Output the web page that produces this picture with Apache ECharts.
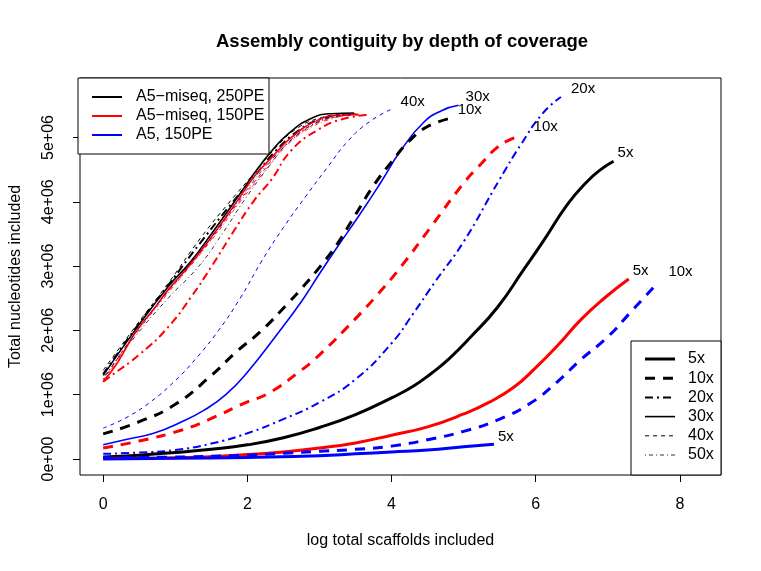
<!DOCTYPE html>
<html>
<head>
<meta charset="utf-8">
<script src="https://cdn.jsdelivr.net/npm/echarts@6/dist/echarts.min.js"></script>
<style>
  html, body { margin: 0; padding: 0; background: #fff; }
  #chart { width: 761px; height: 571px; }
</style>
</head>
<body>
<div id="chart"></div>
<script>
  // x: log total scaffolds, y: total nucleotides (millions)
  const xTicks = [0, 2, 4, 6, 8]
  const yTicks = [0, 1, 2, 3, 4, 5]
  const yTickLabels = ['0e+00', '1e+06', '2e+06', '3e+06', '4e+06', '5e+06']
  const depths = ['5x', '10x', '20x', '30x', '40x', '50x']
  const groups = ['A5\u2212miseq, 250PE', 'A5\u2212miseq, 150PE', 'A5, 150PE']

  // A5-miseq, 250PE (black)
  const black5 = [[0, 0.03], [0.5, 0.06], [1, 0.1], [1.5, 0.15], [2, 0.22], [2.5, 0.33], [3, 0.49], [3.5, 0.69], [4, 0.95], [4.3, 1.13], [4.55, 1.33], [4.8, 1.56], [5.1, 1.9], [5.47, 2.36], [5.83, 2.94], [6.1, 3.38], [6.44, 3.96], [6.7, 4.3], [6.9, 4.5], [7.08, 4.63]]
  const black10 = [[0, 0.39], [0.5, 0.58], [1.0, 0.85], [1.5, 1.3], [1.85, 1.67], [2.2, 2.0], [2.57, 2.43], [2.75, 2.65], [3, 2.98], [3.25, 3.35], [3.5, 3.8], [3.75, 4.25], [4, 4.62], [4.25, 4.95], [4.5, 5.17], [4.82, 5.3]]
  const black20 = [[0, 1.32], [0.44, 2.02], [0.9, 2.7], [1.36, 3.38], [1.8, 4.0], [2.1, 4.4], [2.4, 4.8], [2.7, 5.1], [3.0, 5.28], [3.3, 5.35], [3.45, 5.36]]
  const black30 = [[0, 1.3], [0.44, 2.0], [0.9, 2.68], [1.2, 3.05], [1.5, 3.5], [1.87, 4.08], [2.1, 4.45], [2.33, 4.78], [2.57, 5.06], [2.89, 5.3], [3.16, 5.37], [3.48, 5.38]]
  const black40 = [[0, 1.38], [0.44, 2.05], [0.9, 2.73], [1.36, 3.45], [1.74, 3.98], [2.1, 4.45], [2.4, 4.85], [2.7, 5.15], [3.0, 5.3], [3.3, 5.36], [3.5, 5.37]]
  const black50 = [[0, 1.25], [0.44, 1.9], [0.9, 2.5], [1.32, 2.99], [1.65, 3.5], [1.96, 4.03], [2.3, 4.55], [2.6, 4.95], [3.0, 5.25], [3.3, 5.34], [3.5, 5.36]]

  // A5-miseq, 150PE (red)
  const red5 = [[0, 0.01], [1, 0.02], [2, 0.07], [2.5, 0.11], [3, 0.17], [3.5, 0.25], [4, 0.37], [4.5, 0.5], [5, 0.7], [5.35, 0.88], [5.7, 1.12], [6.0, 1.42], [6.3, 1.76], [6.62, 2.16], [6.95, 2.5], [7.29, 2.8]]
  const red10 = [[0, 0.17], [0.5, 0.28], [1.09, 0.45], [1.5, 0.63], [1.96, 0.87], [2.29, 1.02], [2.7, 1.34], [3, 1.62], [3.48, 2.16], [3.8, 2.55], [4.13, 2.99], [4.54, 3.6], [5.0, 4.29], [5.25, 4.6], [5.47, 4.85], [5.65, 4.97], [5.79, 5.02]]
  const red20 = [[0, 1.2], [0.07, 1.26], [0.53, 1.65], [0.9, 2.05], [1.22, 2.52], [1.5, 2.99], [1.82, 3.56], [2.1, 4.03], [2.33, 4.34], [2.61, 4.8], [2.98, 5.12], [3.3, 5.28], [3.67, 5.35]]
  const red30 = [[0, 1.2], [0.2, 1.5], [0.44, 1.96], [0.7, 2.33], [0.9, 2.63], [1.18, 2.99], [1.5, 3.45], [1.87, 4.03], [2.1, 4.4], [2.33, 4.68], [2.61, 5.0], [2.98, 5.27], [3.3, 5.35], [3.54, 5.36]]
  const red40 = [[0, 1.22], [0.44, 1.95], [0.9, 2.6], [1.2, 3.0], [1.5, 3.42], [1.87, 3.98], [2.2, 4.45], [2.5, 4.85], [2.8, 5.12], [3.1, 5.28], [3.4, 5.34], [3.6, 5.35]]
  const red50 = [[0, 1.2], [0.44, 1.92], [0.9, 2.58], [1.5, 3.4], [1.9, 4.0], [2.2, 4.42], [2.5, 4.82], [2.8, 5.1], [3.2, 5.3], [3.5, 5.35]]

  // A5, 150PE (blue)
  const blue5 = [[0, 0.0], [1, 0.01], [2, 0.025], [3, 0.05], [3.5, 0.08], [4, 0.11], [4.5, 0.14], [5, 0.19], [5.42, 0.23]]
  const blue10 = [[0, 0.02], [1, 0.03], [2, 0.06], [2.5, 0.09], [3, 0.12], [3.5, 0.15], [4, 0.2], [4.5, 0.3], [5, 0.43], [5.5, 0.62], [5.93, 0.87], [6.3, 1.2], [6.62, 1.54], [7.0, 1.9], [7.33, 2.3], [7.66, 2.7]]
  const blue20 = [[0, 0.08], [0.5, 0.1], [1, 0.14], [1.5, 0.24], [2, 0.4], [2.5, 0.62], [3, 0.88], [3.5, 1.24], [4, 1.8], [4.3, 2.26], [4.6, 2.75], [5, 3.38], [5.5, 4.35], [5.8, 4.9], [6.1, 5.38], [6.35, 5.63]]
  const blue30 = [[0, 0.22], [0.3, 0.3], [0.7, 0.4], [1.09, 0.58], [1.4, 0.76], [1.7, 1.0], [2.0, 1.35], [2.4, 1.92], [2.75, 2.45], [3, 2.88], [3.25, 3.3], [3.54, 3.77], [3.85, 4.3], [4.13, 4.8], [4.45, 5.24], [4.7, 5.42], [4.93, 5.5]]
  const blue40 = [[0, 0.48], [0.33, 0.65], [0.67, 0.9], [1.0, 1.22], [1.3, 1.58], [1.6, 2.0], [1.9, 2.5], [2.2, 3.08], [2.5, 3.6], [2.8, 4.07], [3.1, 4.52], [3.4, 4.95], [3.7, 5.25], [4.0, 5.44]]
  const blue50 = [[0, 1.25], [0.44, 1.95], [0.9, 2.62], [1.5, 3.45], [1.9, 4.05], [2.25, 4.55], [2.6, 4.95], [2.9, 5.2], [3.2, 5.32], [3.45, 5.36]]

  const FONT = 'Liberation Sans, Arial, sans-serif'
  const colors = ['#000000', '#ff0000', '#0000ff']
  const depthWidth = [3, 3, 2, 1.6, 1, 0.8]
  const depthDash = ['solid', [10, 8], [8, 4, 2, 4], 'solid', [4, 4], [1, 3, 4, 3]]

  // [group, depth index, data, end label offset or null]
  const curves = [
    [0, 3, black30, null], [0, 4, black40, null], [0, 5, black50, null], [0, 2, black20, null],
    [1, 3, red30, null], [1, 4, red40, null], [1, 5, red50, null], [1, 2, red20, null],
    [2, 5, blue50, null],
    [2, 4, blue40, [9, -7]], [2, 3, blue30, [7, -8]], [2, 2, blue20, [10, -8]],
    [0, 1, black10, [7, -8]], [1, 1, red10, [13, -9]],
    [0, 0, black5, [4, -8]], [1, 0, red5, [4, -8]], [2, 1, blue10, [13, -14]], [2, 0, blue5, [4, -7]]
  ]

  const series = curves.map(([g, d, data, off]) => ({
    type: 'line',
    data: data,
    showSymbol: false,
    smooth: 0.5,
    silent: true,
    lineStyle: { color: colors[g], width: depthWidth[d], type: depthDash[d], cap: 'butt' },
    endLabel: off ? {
      show: true,
      formatter: depths[d],
      offset: off,
      distance: 0,
      color: '#000',
      fontSize: 15,
      fontFamily: FONT
    } : { show: false }
  }))

  // legends drawn like the base-R ones
  const graphic = [
    { type: 'rect', shape: { x: 78, y: 78, width: 191, height: 76 }, style: { fill: '#fff', stroke: '#000', lineWidth: 1 }, z: 50 }
  ]
  groups.forEach((name, i) => {
    const y = 97 + i * 19
    graphic.push({ type: 'line', shape: { x1: 92, y1: y, x2: 122, y2: y }, style: { stroke: colors[i], lineWidth: 2 }, z: 51 })
    graphic.push({ type: 'text', x: 136, y: y, style: { text: name, font: '16px ' + FONT, fill: '#000', verticalAlign: 'middle' }, z: 51 })
  })
  graphic.push({ type: 'rect', shape: { x: 631, y: 341, width: 90, height: 134 }, style: { fill: '#fff', stroke: '#000', lineWidth: 1 }, z: 50 })
  depths.forEach((name, i) => {
    const y = 359 + i * 19.2
    const dash = Array.isArray(depthDash[i]) ? depthDash[i] : null
    graphic.push({ type: 'line', shape: { x1: 645, y1: y, x2: 675, y2: y }, style: { stroke: '#000', lineWidth: depthWidth[i], lineDash: dash }, z: 51 })
    graphic.push({ type: 'text', x: 688, y: y, style: { text: name, font: '16px ' + FONT, fill: '#000', verticalAlign: 'middle' }, z: 51 })
  })

  const chart = echarts.init(document.getElementById('chart'), null, { renderer: 'canvas' })
  chart.setOption({
    animation: false,
    backgroundColor: '#fff',
    title: {
      text: 'Assembly contiguity by depth of coverage',
      left: 211,
      top: 27,
      textStyle: { fontFamily: FONT, fontSize: 18.5, fontWeight: 'bold', color: '#000' }
    },
    grid: { left: 78, right: 40, top: 78, bottom: 96, show: true, borderColor: '#000', borderWidth: 1, backgroundColor: 'transparent' },
    xAxis: {
      type: 'value',
      min: -0.322,
      max: 8.57,
      name: 'log total scaffolds included',
      nameLocation: 'middle',
      nameGap: 58,
      nameTextStyle: { fontFamily: FONT, fontSize: 16, color: '#000' },
      axisLine: { show: false, onZero: false },
      splitLine: { show: false },
      axisTick: { show: true, inside: false, length: 7, customValues: xTicks, lineStyle: { color: '#000' } },
      axisLabel: { customValues: xTicks, margin: 22, fontFamily: FONT, fontSize: 16, color: '#000' }
    },
    yAxis: {
      type: 'value',
      min: -0.249,
      max: 5.925,
      name: 'Total nucleotides included',
      nameLocation: 'middle',
      nameGap: 56,
      nameTextStyle: { fontFamily: FONT, fontSize: 16, color: '#000' },
      axisLine: { show: false, onZero: false },
      splitLine: { show: false },
      axisTick: { show: true, inside: false, length: 7, customValues: yTicks, lineStyle: { color: '#000' } },
      axisLabel: {
        customValues: yTicks,
        rotate: 90,
        margin: 23,
        fontFamily: FONT,
        fontSize: 16,
        color: '#000',
        formatter: (v) => yTickLabels[yTicks.indexOf(Math.round(v))]
      }
    },
    graphic: graphic,
    series: series
  })
</script>
</body>
</html>
